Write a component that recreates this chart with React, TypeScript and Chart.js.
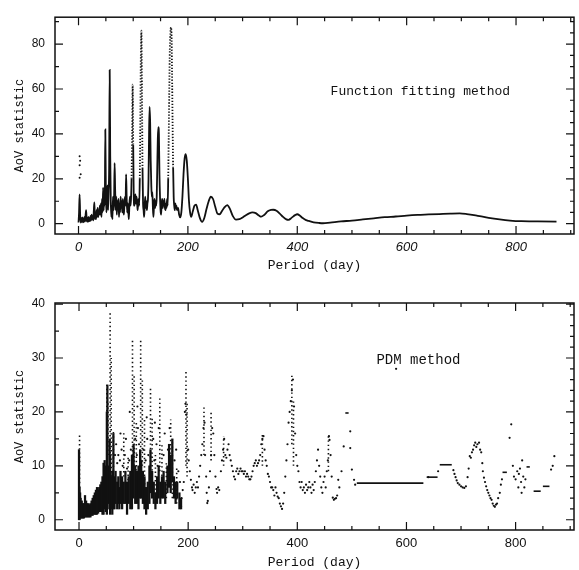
import React, { useEffect, useRef } from "react";
import { Chart, registerables } from "chart.js";

Chart.register(...registerables);

const INK = "#111111";
const MONO = "'Liberation Mono', 'DejaVu Sans Mono', monospace";
const SANS = "'Liberation Sans', Arial, sans-serif";

// tick labels
const X_LABELS = [0, 200, 400, 600, 800];
const FF_Y_LABELS = [0, 20, 40, 60, 80];
const PDM_Y_LABELS = [0, 10, 20, 30, 40];

// Function fitting method: AoV statistic vs period (day)
const FF_CURVE: [number, number][] = [
  [0, 0.5], [1, 5], [2, 13], [3, 4], [4, 0.5], [5, 2.5], [6, 0.8], [7, 2.8], [8, 0.6], [9, 2.4],
  [10, 0.8], [11, 3], [12, 1], [13, 4], [14, 6], [15, 1], [16, 2.6], [17, 0.8], [18, 3], [19, 1],
  [20, 2.5], [21, 1.2], [22, 3.5], [23, 1.5], [24, 4], [25, 2], [26, 3.5], [27, 1.5], [28, 6], [29, 9.5],
  [30, 2], [31, 5], [32, 2], [33, 6], [34, 3], [35, 7], [36, 3], [37, 6], [38, 4], [39, 8],
  [40, 4], [41, 9], [42, 3], [43, 11], [44, 5], [45, 16], [46, 6], [47, 13], [48, 8], [49, 42],
  [50, 14], [51, 5], [52, 12], [53, 17], [54, 6], [55, 14], [56, 25], [57, 68.5], [58, 30], [59, 10],
  [60, 3], [61, 8], [62, 2], [63, 12], [64, 6], [65, 10], [66, 27], [67, 15], [68, 6], [69, 12],
  [70, 4], [71, 10], [72, 7], [73, 11], [74, 3], [75, 9], [76, 5], [77, 12], [78, 7], [79, 10],
  [80, 5], [81, 11], [82, 6], [83, 4], [84, 9], [85, 12], [86, 8], [87, 22], [88, 12], [89, 5],
  [90, 9], [91, 6], [92, 2], [93, 8], [94, 12], [95, 8], [96, 11], [97, 20], [98, 40], [99, 62],
  [100, 35], [101, 12], [102, 8], [103, 10], [104, 13], [105, 9], [106, 12], [107, 10], [108, 6], [109, 9],
  [110, 11], [111, 8], [112, 20], [113, 45], [114, 75], [115, 86], [116, 60], [117, 25], [118, 9], [119, 6],
  [120, 3], [121, 8], [122, 12], [123, 7], [124, 10], [125, 6], [126, 9], [127, 11], [128, 20], [129, 40],
  [130, 52], [131, 45], [132, 28], [133, 18], [134, 12], [135, 14], [136, 7], [137, 3], [138, 8], [139, 11],
  [140, 7], [141, 10], [142, 8], [143, 12], [144, 25], [145, 38], [146, 43], [147, 40], [148, 22], [149, 12],
  [150, 6], [151, 4], [152, 9], [153, 11], [154, 7], [155, 10], [156, 8], [157, 11], [158, 7], [159, 6],
  [160, 9], [161, 7], [162, 11], [163, 8], [164, 20], [165, 40], [166, 60], [167, 78], [168, 85], [169, 87.5],
  [170, 85], [171, 68], [172, 45], [173, 25], [174, 12], [175, 8], [176, 6], [177, 9], [178, 7], [179, 8],
  [180, 6], [182, 7], [184, 4], [186, 2.8], [188, 5], [190, 12], [192, 22], [194, 29], [196, 31], [198, 28],
  [200, 20], [202, 10], [204, 5], [206, 3], [209, 5.5], [212, 8], [215, 8.5], [218, 6], [222, 2.5], [226, 0.8],
  [230, 2.5], [234, 6.5], [238, 10], [242, 12], [246, 11], [250, 7.5], [254, 4.5], [258, 4.2], [262, 5.5], [266, 7],
  [272, 8.3], [277, 6.5], [282, 3.5], [288, 1.8], [294, 2], [300, 2.8], [306, 3.8], [312, 4.6], [318, 5], [324, 4.7],
  [330, 3.6], [334, 3.1], [340, 4], [346, 5.5], [352, 6.1], [356, 6.2], [362, 5.8], [368, 4.5], [374, 3], [380, 1.9],
  [384, 1.7], [390, 2.7], [396, 3.8], [400, 4.2], [405, 3.5], [410, 2.5], [416, 1.6], [421, 1.2], [430, 0.6], [440, 0.3],
  [447, 0.2], [460, 0.5], [480, 1], [500, 1.4], [520, 1.9], [540, 2.4], [560, 2.9], [580, 3.2], [600, 3.6], [620, 3.9],
  [640, 4.1], [660, 4.3], [680, 4.5], [697, 4.6], [710, 4.3], [730, 3.5], [750, 2.6], [770, 1.9], [789, 1.4], [810, 1.1],
  [840, 1.0], [874, 0.9],
];

// period spans whose steep flanks print as dotted lines
const FF_DOTTED_SPANS: [number, number][] = [[97, 101], [111, 118], [164, 173]];

// isolated dots of the function fitting periodogram
const FF_DOTS: [number, number][] = [[2, 30], [3, 28], [2, 26], [4, 22], [2, 20.5]];

// PDM method: dense vertical clusters [period, low, high]
const PDM_DENSE: [number, number, number][] = [
  [0, 0, 13], [1, 0, 6], [2, 0.3, 5], [3, 0.3, 4], [5, 0.3, 3.5], [7, 0.3, 3], [9, 0.3, 3], [11, 0.5, 4.5],
  [13, 0.5, 3.5], [15, 0.5, 3], [17, 0.5, 3], [19, 0.5, 2.8], [21, 0.5, 3], [23, 0.8, 3.5], [25, 0.8, 4],
  [27, 1, 4.5], [29, 1, 5], [31, 1, 5.5], [33, 1, 6], [35, 1.2, 5.5], [37, 1.5, 6], [39, 1.5, 6.5], [41, 1.5, 7],
  [43, 1, 8], [45, 1, 10.5], [47, 2, 11], [49, 1.5, 10], [51, 1, 20], [52, 2, 25], [54, 3, 10], [56, 2, 15],
  [57, 1, 12], [59, 2, 8], [61, 1, 9], [63, 2, 16], [65, 2, 8], [67, 3, 9], [70, 2, 7], [72, 3, 8], [74, 2, 6],
  [76, 3, 9], [79, 2, 8], [82, 3, 7], [85, 3, 9], [88, 1, 7], [91, 3, 8], [94, 2, 9], [97, 2, 12], [100, 4, 14],
  [103, 3, 10], [106, 3, 9], [109, 2, 10], [112, 4, 13], [114, 4, 11], [117, 3, 9], [120, 2, 8], [123, 1, 6],
  [126, 2, 7], [129, 3, 10], [131, 5, 13], [134, 4, 9], [137, 3, 7], [140, 2, 5], [143, 3, 8], [146, 4, 10],
  [149, 3, 7], [152, 4, 8], [155, 4, 9], [158, 3, 7], [162, 5, 10], [165, 6, 14], [168, 5, 12], [171, 7, 15],
  [174, 4, 8], [177, 3, 7], [180, 4, 7], [184, 2, 5], [187, 2, 4],
];

// PDM method: sparse dotted columns [period, low, high]
const PDM_DOTTED: [number, number, number][] = [
  [1, 6, 16], [51, 10, 25.5], [53, 12, 22], [57, 10, 38.5], [59, 8, 30], [63, 9, 16.3], [82, 8, 16.5],
  [90, 5, 12], [98, 8, 33.5], [101, 10, 27], [105, 6, 18], [113, 8, 33.5], [116, 10, 26], [120, 5, 19],
  [131, 10, 24.8], [134, 6, 19], [140, 4, 12], [148, 9, 23], [152, 5, 14], [160, 4, 11], [168, 6, 18.6],
  [171, 4, 15], [179, 3, 10], [196, 10, 27.4], [198, 8, 22], [229, 12, 21], [242, 11, 20], [265, 10, 15.5],
  [336, 10, 15.8], [390, 14, 27], [393, 10, 22], [457, 9, 15.5],
];

// PDM method: single points [period, value]
const PDM_DOTS: [number, number][] = [
  [66, 12], [68, 14], [70, 10.5], [72, 12], [75, 11], [76, 16], [78, 13], [80, 10], [84, 12], [86, 15],
  [88, 9.5], [92, 11], [93, 20], [95, 13], [103, 15], [106, 12], [107, 21], [108, 17], [110, 14], [118, 13],
  [122, 11], [124, 19], [125, 15], [127, 12], [136, 15], [138, 11], [139, 18], [142, 14], [144, 10], [146, 17],
  [155, 12], [157, 16], [163, 13], [166, 17], [175, 11], [178, 13], [182, 9], [185, 7],
  [186, 3.1], [187, 2.5], [188, 4], [190, 5.5], [192, 7], [194, 20], [195, 21.5], [197, 19.5], [200, 13], [201, 11],
  [203, 9], [205, 7.4], [207, 6], [208, 5.5], [210, 6.5], [212, 5], [214, 6], [216, 7], [218, 6], [220, 8],
  [222, 10], [224, 12], [226, 14], [228, 17], [230, 18], [231, 12], [233, 8], [234, 5], [235, 3.1], [236, 3.5],
  [238, 6], [240, 9], [242, 12], [244, 17], [246, 16], [248, 12], [250, 8], [252, 5.7], [253, 5], [255, 6],
  [257, 5.5], [260, 9], [262, 11], [264, 13], [266, 15], [268, 12], [270, 11.5], [272, 13], [274, 14], [276, 12],
  [278, 11], [280, 10], [282, 9], [284, 8], [286, 7.5], [288, 9], [290, 9.5], [292, 8.5], [294, 9], [296, 9.5],
  [298, 9], [300, 9], [302, 8.5], [304, 9], [306, 8], [308, 8.5], [310, 8], [312, 7.5], [314, 7.5], [316, 8],
  [318, 9], [320, 10], [322, 10.5], [324, 11], [326, 10], [328, 10.5], [330, 11], [332, 12], [334, 14], [336, 15],
  [338, 15.5], [340, 13], [342, 11], [344, 10], [346, 8.5], [348, 8], [350, 7], [352, 6], [354, 6], [356, 5.5],
  [358, 4.5], [360, 6], [362, 5], [364, 4.3], [366, 4], [368, 3], [370, 2.5], [372, 2], [374, 3], [376, 5],
  [378, 8], [380, 11], [382, 14], [384, 18], [386, 20], [388, 22], [390, 24], [392, 26], [394, 21], [396, 16],
  [398, 12], [400, 10], [402, 9], [404, 7], [406, 6], [408, 7], [410, 5.5], [412, 6], [414, 5], [416, 6.5],
  [418, 5.5], [420, 6], [422, 7], [424, 6], [426, 5], [428, 6.5], [430, 5.5], [432, 7], [434, 9], [436, 11],
  [438, 13], [440, 10], [442, 8], [444, 6], [446, 5], [448, 7], [450, 8], [452, 6], [454, 9], [456, 11],
  [458, 15.5], [459, 14.8], [461, 12], [463, 8], [465, 4.1], [467, 3.7], [469, 3.9], [471, 4], [473, 4.5], [475, 7.4],
  [477, 6], [481, 9], [485, 13.6], [497, 16.4], [497, 13.3], [500, 9.3], [504, 7.4], [506, 6.5], [581, 28],
  [640, 7.9], [658, 9], [686, 9.2], [688, 8.5], [690, 7.9], [692, 7.3], [694, 6.8], [697, 6.5], [700, 6.2], [703, 6],
  [706, 5.9], [709, 6.2], [712, 7.9], [714, 9.5], [716, 11.8], [718, 11.5], [720, 12.5], [722, 13], [724, 13.8], [726, 14.3],
  [728, 13.5], [730, 14], [733, 14.3], [735, 13], [737, 12.5], [739, 10.5], [740, 9], [742, 7.8], [744, 7], [746, 6.2],
  [748, 5.5], [750, 5], [752, 4.5], [754, 4], [756, 3.7], [758, 3], [760, 2.6], [762, 2.4], [764, 2.8], [766, 3],
  [768, 4], [771, 5], [773, 6.5], [775, 7.5], [789, 15.2], [792, 17.7], [795, 10], [797, 8], [800, 7.5], [803, 9],
  [805, 6], [806, 8.5], [808, 9.5], [810, 7], [811, 5], [812, 11], [814, 8], [816, 6], [818, 7.5], [865, 9.3],
  [868, 10], [871, 11.8],
];

// PDM method: flat runs [start period, end period, value]
const PDM_FLAT: [number, number, number][] = [
  [488, 494, 19.8], [509, 631, 6.8], [637, 657, 7.9], [661, 683, 10.2], [776, 784, 8.8],
  [820, 826, 9.8], [833, 846, 5.3], [850, 862, 6.2],
];

const framePlugin = {
  id: "frame",
  afterDraw(chart: any, _args: any, opts: any) {
    const { ctx, chartArea: a, scales } = chart;
    const xs = scales.x;
    const ys = scales.y;
    ctx.save();
    ctx.strokeStyle = INK;
    ctx.lineWidth = 1.5;
    ctx.strokeRect(a.left, a.top, a.right - a.left, a.bottom - a.top);
    ctx.lineWidth = 1.2;
    ctx.beginPath();
    for (let i = Math.ceil(xs.min / opts.xMinor); i * opts.xMinor <= xs.max; i++) {
      const v = i * opts.xMinor;
      const p = xs.getPixelForValue(v);
      const len = v % opts.xMajor === 0 ? 8 : 4;
      ctx.moveTo(p, a.bottom);
      ctx.lineTo(p, a.bottom - len);
      ctx.moveTo(p, a.top);
      ctx.lineTo(p, a.top + len);
    }
    for (let i = Math.ceil(ys.min / opts.yLeft); i * opts.yLeft <= ys.max; i++) {
      const v = i * opts.yLeft;
      const p = ys.getPixelForValue(v);
      const len = v % opts.yMajor === 0 ? 8 : 4;
      ctx.moveTo(a.left, p);
      ctx.lineTo(a.left + len, p);
    }
    for (let i = Math.ceil(ys.min / opts.yRight); i * opts.yRight <= ys.max; i++) {
      const v = i * opts.yRight;
      const p = ys.getPixelForValue(v);
      const len = v % opts.yMajor === 0 ? 8 : 4;
      ctx.moveTo(a.right, p);
      ctx.lineTo(a.right - len, p);
    }
    ctx.stroke();
    if (opts.label) {
      ctx.font = opts.labelFont;
      ctx.fillStyle = INK;
      ctx.textAlign = "center";
      ctx.textBaseline = "middle";
      ctx.fillText(opts.label, xs.getPixelForValue(opts.labelX), ys.getPixelForValue(opts.labelY));
    }
    ctx.restore();
  },
};

function axes(opts: {
  xMin: number; xMax: number; yMin: number; yMax: number; yLabels: number[];
  italicX: boolean; xHeight: number; titlePad: number;
}) {
  return {
    x: {
      type: "linear",
      min: opts.xMin,
      max: opts.xMax,
      offset: false,
      grid: { display: false, drawTicks: false, offset: false },
      border: { display: false },
      afterBuildTicks: (s: any) => { s.ticks = X_LABELS.map((value) => ({ value })); },
      afterFit: (s: any) => { s.height = opts.xHeight; },
      ticks: {
        padding: 6,
        autoSkip: false,
        maxRotation: 0,
        color: INK,
        font: { family: SANS, size: 13, style: opts.italicX ? "italic" : "normal" },
        callback: (v: any) => String(v),
      },
      title: {
        display: true,
        text: "Period (day)",
        color: INK,
        font: { family: MONO, size: 13 },
        padding: { top: 0, bottom: opts.titlePad },
      },
    },
    y: {
      type: "linear",
      min: opts.yMin,
      max: opts.yMax,
      offset: false,
      grid: { display: false, drawTicks: false },
      border: { display: false },
      afterBuildTicks: (s: any) => { s.ticks = opts.yLabels.map((value) => ({ value })); },
      afterFit: (s: any) => { s.width = 55; },
      ticks: {
        padding: 10,
        color: INK,
        font: { family: SANS, size: 12 },
        callback: (v: any) => String(v),
      },
      title: {
        display: true,
        text: "AoV statistic",
        color: INK,
        font: { family: MONO, size: 12 },
        padding: { top: 13, bottom: 0 },
      },
    },
  };
}

const inDottedSpan = (x0: number, x1: number) =>
  FF_DOTTED_SPANS.some(([a, b]) => x0 >= a && x1 <= b);

function FFChart() {
  const ref = useRef<HTMLCanvasElement>(null);
  useEffect(() => {
    const chart = new Chart(ref.current as HTMLCanvasElement, {
      type: "scatter",
      data: {
        datasets: [
          {
            data: FF_CURVE.map(([x, y]) => ({ x, y })),
            showLine: true,
            borderColor: INK,
            borderWidth: 1.8,
            pointRadius: 0,
            cubicInterpolationMode: "monotone",
            segment: {
              borderDash: (c: any) =>
                inDottedSpan(c.p0.parsed.x, c.p1.parsed.x) && c.p0.parsed.y > 12 && c.p1.parsed.y > 12
                  ? [1.3, 1.7]
                  : undefined,
            },
          } as any,
          {
            data: FF_DOTS.map(([x, y]) => ({ x, y })),
            pointRadius: 1,
            backgroundColor: INK,
            borderWidth: 0,
          },
        ],
      },
      options: {
        responsive: false,
        animation: false,
        devicePixelRatio: 1,
        layout: { padding: { top: 5, right: 5, left: 0, bottom: 0 } },
        plugins: {
          legend: { display: false },
          tooltip: { enabled: false },
          frame: {
            xMinor: 50, xMajor: 200, yLeft: 10, yRight: 5, yMajor: 20,
            label: "Function fitting method", labelX: 625, labelY: 59,
            labelFont: `13px ${MONO}`,
          },
        } as any,
        scales: axes({
          xMin: -43, xMax: 906, yMin: -4.6, yMax: 92, yLabels: FF_Y_LABELS,
          italicX: true, xHeight: 51, titlePad: 12,
        }) as any,
      },
      plugins: [framePlugin],
    });
    return () => chart.destroy();
  }, []);
  return <canvas ref={ref} width={579} height={285} style={{ display: "block" }} />;
}

function PDMChart() {
  const ref = useRef<HTMLCanvasElement>(null);
  useEffect(() => {
    const datasets: any[] = [
      {
        type: "bar",
        data: PDM_DENSE.map(([x, lo, hi]) => ({ x, y: [lo, hi] })),
        backgroundColor: INK,
        borderWidth: 0,
        barThickness: 1.6,
        grouped: false,
      },
      ...PDM_DOTTED.map(([x, lo, hi]) => ({
        type: "line",
        data: [{ x, y: lo }, { x, y: hi }],
        borderColor: INK,
        borderWidth: 1.6,
        borderDash: [1.4, 2.8],
        pointRadius: 0,
      })),
      ...PDM_FLAT.map(([x0, x1, y]) => ({
        type: "line",
        data: [{ x: x0, y }, { x: x1, y }],
        borderColor: INK,
        borderWidth: 1.6,
        pointRadius: 0,
      })),
      {
        type: "scatter",
        data: PDM_DOTS.map(([x, y]) => ({ x, y })),
        pointRadius: 1.1,
        backgroundColor: INK,
        borderWidth: 0,
      },
    ];
    const chart = new Chart(ref.current as HTMLCanvasElement, {
      type: "scatter",
      data: { datasets },
      options: {
        responsive: false,
        animation: false,
        devicePixelRatio: 1,
        layout: { padding: { top: 18, right: 5, left: 0, bottom: 0 } },
        plugins: {
          legend: { display: false },
          tooltip: { enabled: false },
          frame: {
            xMinor: 50, xMajor: 200, yLeft: 5, yRight: 2, yMajor: 10,
            label: "PDM method", labelX: 622, labelY: 29.6,
            labelFont: `14px ${MONO}`,
          },
        } as any,
        scales: axes({
          xMin: -44, xMax: 907, yMin: -1.9, yMax: 40.2, yLabels: PDM_Y_LABELS,
          italicX: false, xHeight: 40, titlePad: 0,
        }) as any,
      },
      plugins: [framePlugin],
    });
    return () => chart.destroy();
  }, []);
  return <canvas ref={ref} width={579} height={285} style={{ display: "block" }} />;
}

export default function App() {
  return (
    <div style={{ position: "absolute", left: 0, top: 0, width: 579, height: 570, background: "#fff" }}>
      <FFChart />
      <PDMChart />
    </div>
  );
}
